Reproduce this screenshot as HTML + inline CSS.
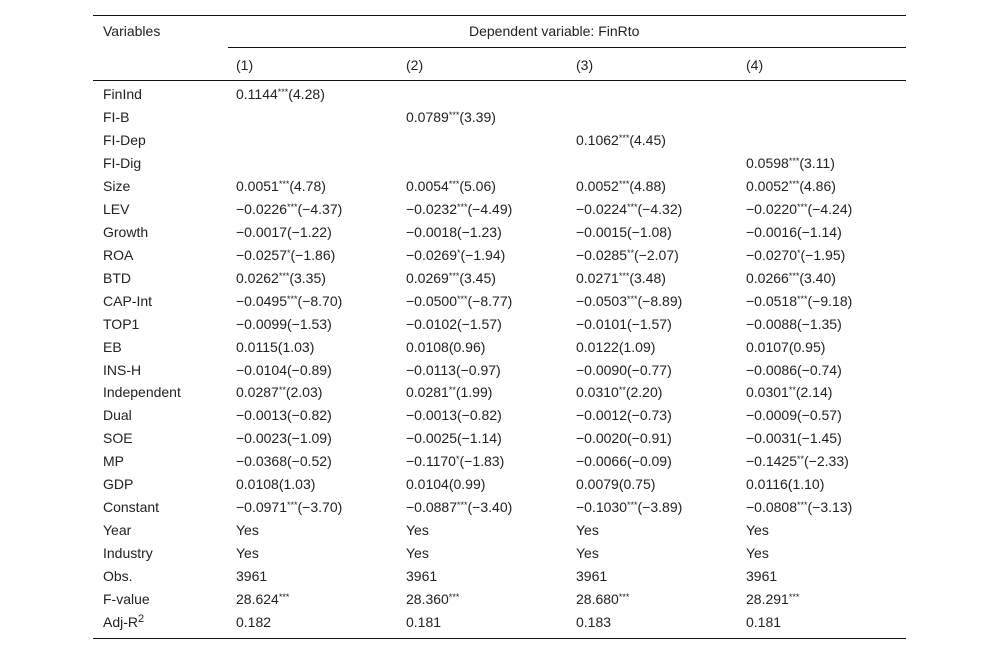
<!DOCTYPE html>
<html><head><meta charset="utf-8"><style>
body{margin:0;width:1000px;height:655px;background:#fff;font-family:"Liberation Sans",Arial,sans-serif;font-size:14px;color:#222;position:relative;overflow:hidden}
.t{position:absolute;white-space:nowrap;line-height:16px}
.l{position:absolute;height:1px;background:#111}
sup{font-size:9px;vertical-align:4px;line-height:0}
sup.r{font-size:11px;vertical-align:5px}
</style></head><body>
<div class="l" style="left:93px;top:15px;width:813px"></div>
<div class="t" style="left:103px;top:23px">Variables</div>
<div class="t" style="left:469px;top:23px">Dependent variable: FinRto</div>
<div class="l" style="left:228px;top:47px;width:678px"></div>
<div class="t" style="left:236px;top:57px">(1)</div>
<div class="t" style="left:406px;top:57px">(2)</div>
<div class="t" style="left:576px;top:57px">(3)</div>
<div class="t" style="left:746px;top:57px">(4)</div>
<div class="l" style="left:93px;top:80px;width:813px"></div>
<div class="l" style="left:93px;top:638px;width:813px"></div>
<script>
const variables=["FinInd","FI-B","FI-Dep","FI-Dig","Size","LEV","Growth","ROA","BTD","CAP-Int","TOP1","EB","INS-H","Independent","Dual","SOE","MP","GDP","Constant","Year","Industry","Obs.","F-value","Adj-R<sup class=\"r\">2</sup>"];
const col1=["0.1144***(4.28)","","","","0.0051***(4.78)","−0.0226***(−4.37)","−0.0017(−1.22)","−0.0257*(−1.86)","0.0262***(3.35)","−0.0495***(−8.70)","−0.0099(−1.53)","0.0115(1.03)","−0.0104(−0.89)","0.0287**(2.03)","−0.0013(−0.82)","−0.0023(−1.09)","−0.0368(−0.52)","0.0108(1.03)","−0.0971***(−3.70)","Yes","Yes","3961","28.624***","0.182"];
const col2=["","0.0789***(3.39)","","","0.0054***(5.06)","−0.0232***(−4.49)","−0.0018(−1.23)","−0.0269*(−1.94)","0.0269***(3.45)","−0.0500***(−8.77)","−0.0102(−1.57)","0.0108(0.96)","−0.0113(−0.97)","0.0281**(1.99)","−0.0013(−0.82)","−0.0025(−1.14)","−0.1170*(−1.83)","0.0104(0.99)","−0.0887***(−3.40)","Yes","Yes","3961","28.360***","0.181"];
const col3=["","","0.1062***(4.45)","","0.0052***(4.88)","−0.0224***(−4.32)","−0.0015(−1.08)","−0.0285**(−2.07)","0.0271***(3.48)","−0.0503***(−8.89)","−0.0101(−1.57)","0.0122(1.09)","−0.0090(−0.77)","0.0310**(2.20)","−0.0012(−0.73)","−0.0020(−0.91)","−0.0066(−0.09)","0.0079(0.75)","−0.1030***(−3.89)","Yes","Yes","3961","28.680***","0.183"];
const col4=["","","","0.0598***(3.11)","0.0052***(4.86)","−0.0220***(−4.24)","−0.0016(−1.14)","−0.0270*(−1.95)","0.0266***(3.40)","−0.0518***(−9.18)","−0.0088(−1.35)","0.0107(0.95)","−0.0086(−0.74)","0.0301**(2.14)","−0.0009(−0.57)","−0.0031(−1.45)","−0.1425**(−2.33)","0.0116(1.10)","−0.0808***(−3.13)","Yes","Yes","3961","28.291***","0.181"];
const xs=[103,236,406,576,746];
const cols=[variables,col1,col2,col3,col4];
function fmt(s){return s.replace(/(\*+)/,'<sup>$1</sup>');}
for(let r=0;r<variables.length;r++){
  for(let c=0;c<5;c++){
    const v=cols[c][r]; if(!v) continue;
    const d=document.createElement('div');
    d.className='t';
    d.style.left=xs[c]+'px';
    d.style.top=(86+r*22.96)+'px';
    d.innerHTML=c===0?v:fmt(v);
    
    
    document.body.appendChild(d);
  }
}
</script>
</body></html>
